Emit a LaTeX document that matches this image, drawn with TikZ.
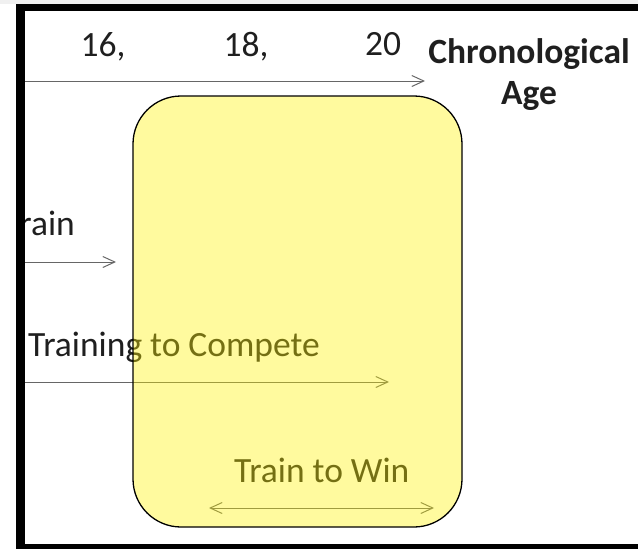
\documentclass[tikz,border=0pt]{standalone}
\usepackage{fontspec}
\setmainfont{Carlito}
\usetikzlibrary{arrows.meta}
\begin{document}
\begin{tikzpicture}[x=1pt,y=-1pt,
  lbl/.style={inner sep=0pt,text=black!88,font=\fontsize{35.5}{40}\selectfont},
  blbl/.style={lbl,font=\fontsize{35.5}{40}\selectfont\bfseries},
  axarrow/.style={draw=black!60,line width=1pt,-{Straight Barb[length=12pt,width=11pt]}},
  dblarrow/.style={draw=black!60,line width=1pt,{Straight Barb[length=12pt,width=11pt]}-{Straight Barb[length=12pt,width=11pt]}},
  stagebox/.style={draw=black,line width=1.3pt,fill=yellow,fill opacity=0.38,rounded corners=48pt}]
\useasboundingbox (0,0) rectangle (638,549);
\fill[gray!12] (0,0) rectangle (638,3.5);
% labels and arrows (under the box)
\begin{scope}
\clip (20,0) rectangle (638,549);
\node[lbl,anchor=base] (t16) at (103,56) {16,};
\node[lbl,anchor=base] (t18) at (246,56) {18,};
\node[lbl,anchor=base] (t20) at (383,55) {20};
\node[blbl,anchor=base] (chrono) at (529,63) {Chronological};
\node[blbl,anchor=base] (age) at (529,104) {Age};
\node[lbl,anchor=base east] (train) at (75,235) {Train};
\node[lbl,anchor=base west] (compete) at (28,356) {Training to Compete};
\node[lbl,anchor=base west] (win) at (234,482) {Train to Win};
\coordinate (axs) at (20,81);
\coordinate (axe) at (425,81);
\coordinate (trs) at (20,262);
\coordinate (tre) at (116,262);
\coordinate (cos) at (20,382);
\coordinate (coe) at (389,382);
\coordinate (wis) at (209,508);
\coordinate (wie) at (434,508);
\draw[axarrow] (axs) -- (axe);
\draw[axarrow] (trs) -- (tre);
\draw[axarrow] (cos) -- (coe);
\draw[dblarrow] (wis) -- (wie);
\end{scope}
% semi-transparent stage box
\node[stagebox,minimum width=329pt,minimum height=431pt,inner sep=0pt] (box) at (297.5,311.5) {};
% frame
\fill[black] (16,4) rectangle (638,11);
\fill[black] (16,4) rectangle (25,549);
\fill[black] (16,543.5) rectangle (638,549);
\end{tikzpicture}
\end{document}
